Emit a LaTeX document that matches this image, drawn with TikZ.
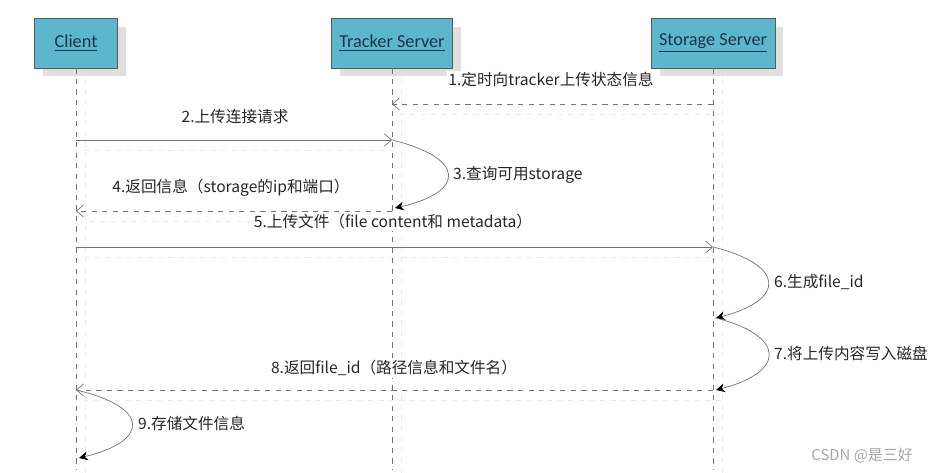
\documentclass[tikz,border=0pt]{standalone}
\usepackage{fontspec}
\setmainfont{Noto Sans CJK SC}
\newfontfamily\boxfont{Carlito}
\usetikzlibrary{arrows.meta,shadows}
\definecolor{boxblue}{RGB}{92,182,204}
\definecolor{boxtext}{RGB}{28,52,74}
\definecolor{linegray}{RGB}{115,115,115}

\begin{document}
\begin{tikzpicture}[x=0.02cm,y=-0.02cm,font=\fontsize{8.9}{10}\selectfont]
\tikzset{
  actor/.style={draw=black!65, fill=boxblue, text=boxtext, minimum height=1cm, inner sep=0pt,
    font=\boxfont\fontsize{10.4}{12}\selectfont,
    drop shadow={shadow xshift=0.17cm, shadow yshift=-0.17cm, fill=gray!25, opacity=1}},
  life/.style={dashed, linegray, thin},
  ghost/.style={dashed, gray!15, thin},
  call/.style={linegray, thin, -{Straight Barb[length=4pt,width=7pt]}},
  reply/.style={call, dashed},
  self/.style={linegray, thin, -{Stealth[length=5pt,width=5pt,black]}},
  lbl/.style={fill=white, inner sep=1pt, text=black!85}
}
\useasboundingbox (0,0) rectangle (934,473);

% actors
\node[actor, minimum width=1.66cm] (client) at (76,43) {\underline{Client}};
\node[actor, minimum width=2.42cm] (tracker) at (392,43) {\underline{Tracker Server}};
\node[actor, minimum width=2.48cm] (storage) at (713,43) {\underline{Storage Server}};

% lifelines and their faint shadows
\foreach \n/\x in {client/76,tracker/392,storage/713} {
    \coordinate (\n-end) at (\x,470);
    \draw[ghost] (\x+9,78) -- (\x+9,473);
    \draw[life] (\n.south) -- (\n-end);
}

% message points
\coordinate (s1) at (713,104); \coordinate (t1) at (392,104);
\coordinate (c2) at (76,140);  \coordinate (t2) at (392,140);
\coordinate (t3) at (395,208);
\coordinate (t4) at (392,211); \coordinate (c4) at (76,211);
\coordinate (c5) at (76,247);  \coordinate (s5) at (713,247);
\coordinate (s6) at (716,318);
\coordinate (s7) at (716,390);
\coordinate (s8) at (713,390); \coordinate (c8) at (76,390);
\coordinate (c9) at (79,458);

% faint shadows of the messages
\foreach \a/\b in {s1/t1,c2/t2,t4/c4,c5/s5,s8/c8} {
    \draw[ghost] ([shift={(8,10)}]\a) -- ([shift={(8,10)}]\b);
}

% 1. tracker status report
\draw[reply] (s1) -- (t1);
\node[lbl] (l1) at (551,80) {1.定时向tracker上传状态信息};
% 2. upload request
\draw[call] (c2) -- (t2);
\node[lbl] (l2) at (235,117) {2.上传连接请求};
% 3. query storage
\draw[self] (t2) .. controls (466,158) and (466,192) .. (t3);
\node[lbl, anchor=west] (l3) at (451,175) {3.查询可用storage};
% 4. return storage address
\draw[reply] (t4) -- (c4);
\node[lbl] (l4) at (231,188) {4.返回信息（storage的ip和端口）};
% 5. upload file
\draw[call] (c5) -- (s5);
\node[lbl] (l5) at (393,222) {5.上传文件（file content和 metadata）};
% 6. and 7. storage work
\draw[self] (s5) .. controls (786,265) and (786,300) .. (s6);
\node[lbl, anchor=west] (l6) at (772,282) {6.生成file\_id};
\draw[self] (s6) .. controls (786,336) and (786,372) .. (s7);
\node[lbl, anchor=west] (l7) at (772,353) {7.将上传内容写入磁盘};
% 8. return file id
\draw[reply] (s8) -- (c8);
\node[lbl] (l8) at (394,368) {8.返回file\_id（路径信息和文件名）};
% 9. client stores info
\draw[self] (c8) .. controls (150,407) and (150,441) .. (c9);
\node[lbl, anchor=west] (l9) at (136,424) {9.存储文件信息};

% watermark
\node[anchor=east, text=gray!70, font=\fontsize{8.5}{10}\selectfont] (mark) at (919,456) {CSDN @是三好};
\end{tikzpicture}
\end{document}
